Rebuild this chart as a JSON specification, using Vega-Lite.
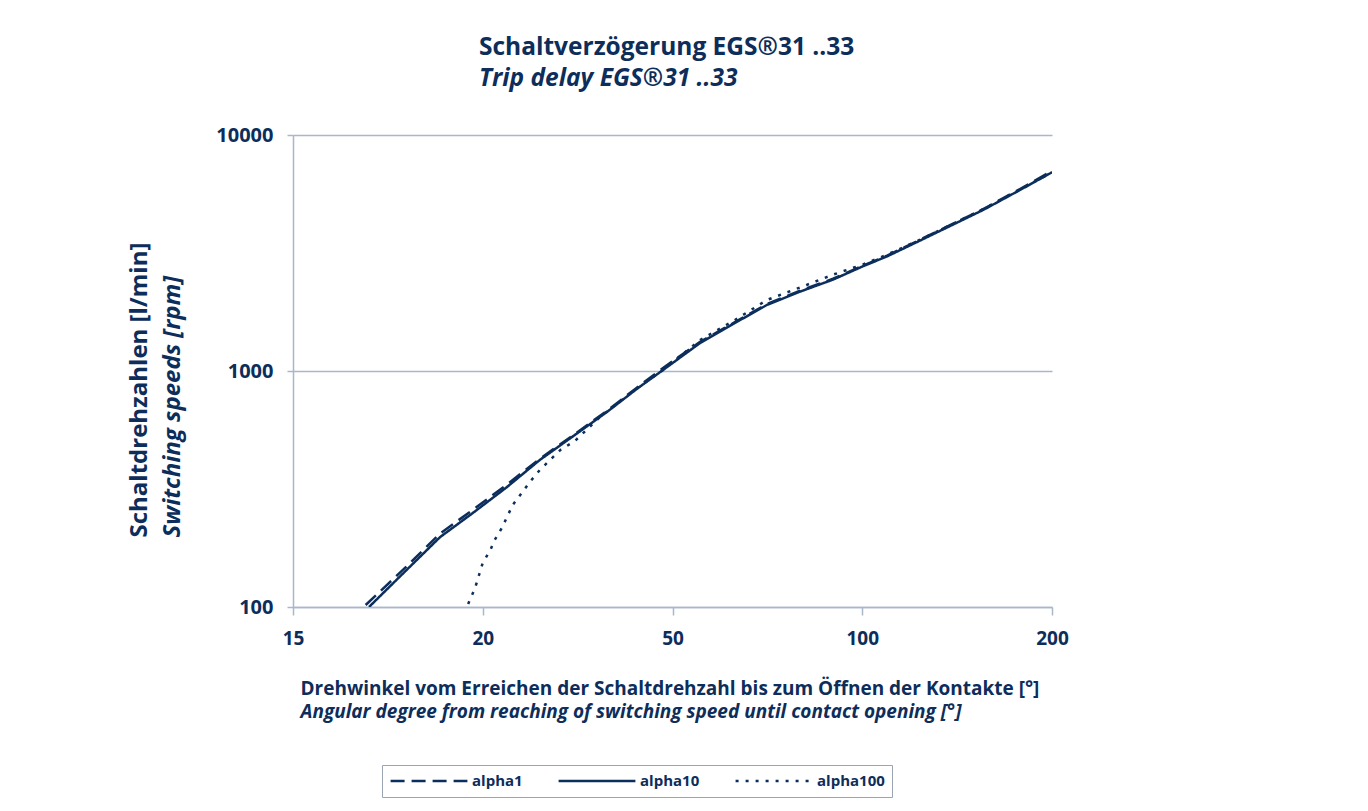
{
  "$schema": "https://vega.github.io/schema/vega-lite/v6.json",
  "autosize": "none",
  "width": 759,
  "height": 472,
  "padding": {"left": 293, "top": 135, "right": 316, "bottom": 204},
  "background": "white",
  "title": {
    "text": "Schaltverzögerung EGS®31 ..33",
    "subtitle": "Trip delay EGS®31 ..33",
    "anchor": "start",
    "frame": "group",
    "dx": 186,
    "offset": 34,
    "font": "Open Sans",
    "fontSize": 24.5,
    "fontWeight": "bold",
    "color": "#0d2d5a",
    "subtitleFont": "Open Sans",
    "subtitleFontSize": 24.5,
    "subtitleFontWeight": "bold",
    "subtitleFontStyle": "italic",
    "subtitleColor": "#0d2d5a",
    "subtitlePadding": 6
  },
  "data": {
    "values": [
      {"series": "alpha1", "angle": 16.3, "rpm": 102},
      {"series": "alpha1", "angle": 18.8, "rpm": 146},
      {"series": "alpha1", "angle": 21.4, "rpm": 205},
      {"series": "alpha1", "angle": 24.1, "rpm": 258},
      {"series": "alpha1", "angle": 27.3, "rpm": 330},
      {"series": "alpha1", "angle": 30.8, "rpm": 425},
      {"series": "alpha1", "angle": 34.8, "rpm": 535},
      {"series": "alpha1", "angle": 39.4, "rpm": 680},
      {"series": "alpha1", "angle": 43.9, "rpm": 850},
      {"series": "alpha1", "angle": 48.3, "rpm": 1030},
      {"series": "alpha1", "angle": 55.3, "rpm": 1330},
      {"series": "alpha1", "angle": 62.8, "rpm": 1610},
      {"series": "alpha1", "angle": 70.6, "rpm": 1920},
      {"series": "alpha1", "angle": 79.7, "rpm": 2190},
      {"series": "alpha1", "angle": 89.9, "rpm": 2460},
      {"series": "alpha1", "angle": 100.3, "rpm": 2800},
      {"series": "alpha1", "angle": 109.5, "rpm": 3080},
      {"series": "alpha1", "angle": 123.5, "rpm": 3600},
      {"series": "alpha1", "angle": 155.5, "rpm": 4850},
      {"series": "alpha1", "angle": 177.9, "rpm": 5900},
      {"series": "alpha1", "angle": 200, "rpm": 7050},
      {"series": "alpha10", "angle": 16.5, "rpm": 100},
      {"series": "alpha10", "angle": 18.8, "rpm": 141},
      {"series": "alpha10", "angle": 21.4, "rpm": 198},
      {"series": "alpha10", "angle": 24.1, "rpm": 250},
      {"series": "alpha10", "angle": 27.3, "rpm": 322},
      {"series": "alpha10", "angle": 30.8, "rpm": 420},
      {"series": "alpha10", "angle": 34.8, "rpm": 530},
      {"series": "alpha10", "angle": 39.4, "rpm": 672},
      {"series": "alpha10", "angle": 43.9, "rpm": 840},
      {"series": "alpha10", "angle": 48.3, "rpm": 1010},
      {"series": "alpha10", "angle": 55.3, "rpm": 1314},
      {"series": "alpha10", "angle": 62.8, "rpm": 1597},
      {"series": "alpha10", "angle": 70.6, "rpm": 1905},
      {"series": "alpha10", "angle": 79.7, "rpm": 2170},
      {"series": "alpha10", "angle": 89.9, "rpm": 2440},
      {"series": "alpha10", "angle": 100.3, "rpm": 2780},
      {"series": "alpha10", "angle": 109.5, "rpm": 3060},
      {"series": "alpha10", "angle": 123.5, "rpm": 3570},
      {"series": "alpha10", "angle": 155.5, "rpm": 4811},
      {"series": "alpha10", "angle": 177.9, "rpm": 5846},
      {"series": "alpha10", "angle": 200, "rpm": 6950},
      {"series": "alpha100", "angle": 23.7, "rpm": 103},
      {"series": "alpha100", "angle": 24.3, "rpm": 120},
      {"series": "alpha100", "angle": 25.0, "rpm": 154},
      {"series": "alpha100", "angle": 25.7, "rpm": 174},
      {"series": "alpha100", "angle": 26.1, "rpm": 192},
      {"series": "alpha100", "angle": 26.8, "rpm": 216},
      {"series": "alpha100", "angle": 27.9, "rpm": 271},
      {"series": "alpha100", "angle": 28.9, "rpm": 307},
      {"series": "alpha100", "angle": 29.7, "rpm": 339},
      {"series": "alpha100", "angle": 30.8, "rpm": 381},
      {"series": "alpha100", "angle": 33.2, "rpm": 463},
      {"series": "alpha100", "angle": 35.0, "rpm": 505},
      {"series": "alpha100", "angle": 38.4, "rpm": 640},
      {"series": "alpha100", "angle": 43.9, "rpm": 845},
      {"series": "alpha100", "angle": 48.3, "rpm": 1010},
      {"series": "alpha100", "angle": 55.3, "rpm": 1353},
      {"series": "alpha100", "angle": 62.8, "rpm": 1644},
      {"series": "alpha100", "angle": 70.6, "rpm": 2000},
      {"series": "alpha100", "angle": 79.7, "rpm": 2260},
      {"series": "alpha100", "angle": 89.9, "rpm": 2560},
      {"series": "alpha100", "angle": 100.3, "rpm": 2830},
      {"series": "alpha100", "angle": 109.5, "rpm": 3110},
      {"series": "alpha100", "angle": 123.5, "rpm": 3600},
      {"series": "alpha100", "angle": 155.5, "rpm": 4850},
      {"series": "alpha100", "angle": 177.9, "rpm": 5870},
      {"series": "alpha100", "angle": 200, "rpm": 6950}
    ]
  },
  "layer": [
    {
      "mark": {"type": "line", "strokeWidth": 2.5, "color": "#0b2e5c", "clip": true},
      "encoding": {
        "x": {
          "field": "angle",
          "type": "quantitative",
          "scale": {"type": "log", "base": 2, "domain": [12.5, 200], "nice": false},
          "axis": {
            "orient": "bottom",
            "values": [12.5, 25, 50, 100, 200],
            "labelExpr": "datum.value == 12.5 ? '15' : datum.value == 25 ? '20' : format(datum.value, 'd')",
            "grid": false,
            "domainColor": "#a9b7c9",
            "domainWidth": 1.5,
            "tickColor": "#a9b7c9",
            "tickWidth": 1.5,
            "tickSize": 8,
            "labelFont": "Open Sans",
            "labelFontSize": 19,
            "labelFontWeight": "bold",
            "labelColor": "#0d2d5a",
            "labelPadding": 14,
            "labelFlush": false,
            "title": "Drehwinkel vom Erreichen der Schaltdrehzahl bis zum Öffnen der Kontakte [°]",
            "titleFont": "Open Sans",
            "titleFontSize": 19,
            "titleFontWeight": "bold",
            "titleColor": "#0d2d5a",
            "titleAlign": "left",
            "titleAnchor": "start",
            "titleBaseline": "alphabetic",
            "titleX": 7,
            "titleY": 87
          }
        },
        "y": {
          "field": "rpm",
          "type": "quantitative",
          "scale": {"type": "log", "domain": [100, 10000], "nice": false},
          "axis": {
            "orient": "left",
            "values": [100, 1000, 10000],
            "format": "d",
            "grid": true,
            "gridColor": "#a9b7c9",
            "gridWidth": 1.5,
            "domainColor": "#a9b7c9",
            "domainWidth": 1.5,
            "tickColor": "#a9b7c9",
            "tickWidth": 1.5,
            "tickSize": 6,
            "labelFont": "Open Sans",
            "labelFontSize": 20,
            "labelFontWeight": "bold",
            "labelColor": "#0d2d5a",
            "labelPadding": 14,
            "title": "Switching speeds [rpm]",
            "titleFont": "Open Sans",
            "titleFontSize": 24,
            "titleFontWeight": "bold",
            "titleFontStyle": "italic",
            "titleColor": "#0d2d5a",
            "titleAngle": -90,
            "titleAlign": "left",
            "titleBaseline": "bottom",
            "titleX": -109,
            "titleY": 402
          }
        },
        "strokeDash": {
          "field": "series",
          "type": "nominal",
          "scale": {"domain": ["alpha1", "alpha10", "alpha100"], "range": [[14, 7], [1, 0], [3, 7]]},
          "legend": {
            "title": null,
            "orient": "none",
            "direction": "horizontal",
            "legendX": 89,
            "legendY": 630,
            "symbolType": "stroke",
            "symbolSize": 5900,
            "symbolStrokeWidth": 2.5,
            "symbolStrokeColor": "#0b2e5c",
            "clipHeight": 18,
            "labelFont": "Open Sans",
            "labelFontSize": 15,
            "labelFontWeight": "bold",
            "labelColor": "#0d2d5a",
            "labelOffset": 3,
            "columnPadding": 34,
            "padding": 7,
            "strokeColor": "#9aa5b3",
            "fillColor": "white"
          }
        },
        "detail": {"field": "series"}
      }
    },
    {
      "mark": {"type": "rule", "opacity": 0},
      "encoding": {
        "x": {
          "field": "angle",
          "type": "quantitative",
          "aggregate": "min",
          "axis": {
            "orient": "bottom",
            "domain": false,
            "ticks": false,
            "labels": false,
            "grid": false,
            "title": "Angular degree from reaching of switching speed until contact opening [°]",
            "titleFont": "Open Sans",
            "titleFontSize": 19,
            "titleFontWeight": "bold",
            "titleFontStyle": "italic",
            "titleColor": "#0d2d5a",
            "titleAlign": "left",
            "titleAnchor": "start",
            "titleBaseline": "alphabetic",
            "titleX": 7,
            "titleY": 110
          }
        },
        "y": {
          "field": "rpm",
          "type": "quantitative",
          "aggregate": "min",
          "axis": {
            "orient": "left",
            "domain": false,
            "ticks": false,
            "labels": false,
            "grid": false,
            "title": "Schaltdrehzahlen [l/min]",
            "titleFont": "Open Sans",
            "titleFontSize": 24,
            "titleFontWeight": "bold",
            "titleColor": "#0d2d5a",
            "titleAngle": -90,
            "titleAlign": "left",
            "titleBaseline": "bottom",
            "titleX": -142,
            "titleY": 402
          }
        }
      }
    }
  ],
  "resolve": {"axis": {"y": "independent", "x": "independent"}, "scale": {"x": "independent", "y": "independent"}},
  "config": {"view": {"stroke": null}}
}
